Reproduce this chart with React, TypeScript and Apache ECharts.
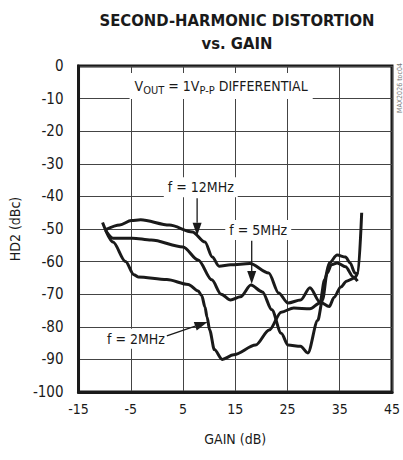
import React, { useEffect, useRef } from 'react';
import * as echarts from 'echarts';

const gainMin = -15;
const gainMax = 45;
const gainStep = 10;
const hd2Min = -100;
const hd2Max = 0;
const hd2Step = 10;

const f12Gain = [-9.8, -7.1, -4.9, -3.1, 2.4, 6.8, 9.2, 10.6, 11.9, 14.1, 17.8, 21.4, 23.3, 25.1, 27.5, 29.3, 31.2, 33.0, 33.9, 35.2, 36.3, 37.9, 38.5, 39.2];
const f12Hd2 = [-50.2, -48.8, -47.4, -47.2, -48.8, -50.9, -54, -58.6, -61.4, -61, -60.6, -63.5, -69.6, -72.7, -71.8, -68, -72.4, -73.8, -71, -67.8, -66, -65, -63.5, -45];

const f5Gain = [-9.8, -8.4, -4.7, -1.1, 5.0, 7.9, 10.5, 12.3, 14.1, 16.0, 18.0, 20.2, 22.0, 23.8, 25.1, 27.5, 28.9, 30.8, 31.7, 32.6, 33.4, 34.5, 36.1, 37.6, 38.4];
const f5Hd2 = [-50.5, -52.8, -52.8, -53.4, -55.5, -59.5, -65.6, -70, -71.8, -70.8, -67.2, -69.3, -74.8, -82, -85.6, -86, -88, -78, -71.8, -63.5, -61, -60.4, -61.6, -64.7, -66];

const f2Gain = [-10.4, -8.4, -6.0, -4.4, -3.6, 1.9, 6.0, 7.9, 8.6, 9.2, 9.6, 10.1, 11.0, 12.5, 14.7, 18.9, 21.5, 23.8, 26.2, 29.3, 31.2, 32.1, 33.0, 34.5, 36.1, 37.0, 37.9, 38.5];
const f2Hd2 = [-48, -54, -60, -64, -64.7, -65.5, -67, -69, -70.5, -73.9, -77, -81, -87, -90, -88.6, -85.6, -81, -75.5, -74.2, -74.5, -72.7, -65.6, -60.4, -58, -58.6, -60.4, -63.5, -64];

const seriesNames = ['f = 12MHz', 'f = 5MHz', 'f = 2MHz'];

const FONT = '"DejaVu Sans Condensed", "Liberation Sans Narrow", sans-serif';
const INK = '#1a1a1a';

export default function App() {
  const ref = useRef<HTMLDivElement>(null);
  useEffect(() => {
    const chart = echarts.init(ref.current!, null, { renderer: 'svg' });
    const mk = (name: string, gain: number[], hd2: number[]) => ({
      type: 'line',
      name,
      data: gain.map((g, i) => [g, hd2[i]]),
      showSymbol: false,
      symbol: 'none',
      smooth: 0.3,
      smoothMonotone: 'x',
      silent: true,
      z: 3,
      lineStyle: { color: INK, width: 3 },
    });
    chart.setOption({
      animation: false,
      backgroundColor: '#fff',
      title: {
        text: 'SECOND-HARMONIC DISTORTION\nvs. GAIN',
        left: 232,
        top: 4,
        textAlign: 'center',
        textStyle: { fontFamily: FONT, fontSize: 16.5, fontWeight: 'bold', color: INK, lineHeight: 23 },
      },
      grid: { left: 68, right: 7, top: 66, bottom: 68, show: true, borderColor: INK, borderWidth: 3, backgroundColor: 'transparent' },
      xAxis: {
        type: 'value', min: gainMin, max: gainMax, interval: gainStep,
        name: 'GAIN (dB)', nameLocation: 'middle', nameGap: 40,
        nameTextStyle: { fontFamily: FONT, fontSize: 14, color: INK },
        axisLine: { show: true, onZero: false, lineStyle: { color: INK, width: 3 } },
        axisTick: { show: false },
        axisLabel: { fontFamily: FONT, fontSize: 14, color: INK, margin: 10, showMinLabel: true, showMaxLabel: true },
        splitLine: { show: true, lineStyle: { color: '#444', width: 1 } },
      },
      yAxis: {
        type: 'value', min: hd2Min, max: hd2Max, interval: hd2Step,
        name: 'HD2 (dBc)', nameLocation: 'middle', nameGap: 41,
        nameTextStyle: { fontFamily: FONT, fontSize: 14, color: INK },
        axisLine: { show: true, onZero: false, lineStyle: { color: INK, width: 3 } },
        axisTick: { show: false },
        axisLabel: { fontFamily: FONT, fontSize: 15, color: INK, margin: 15 },
        splitLine: { show: true, lineStyle: { color: '#444', width: 1 } },
      },
      series: [
        mk(seriesNames[0], f12Gain, f12Hd2),
        mk(seriesNames[1], f5Gain, f5Hd2),
        mk(seriesNames[2], f2Gain, f2Hd2),
      ],
    });

    const px = (p: number[]) => chart.convertToPixel({ gridIndex: 0 }, p) as number[];
    const labelStyle = (text: string, p: number[]) => ({
      type: 'text', z: 10, silent: true,
      style: {
        text, x: p[0], y: p[1], align: 'center', verticalAlign: 'middle',
        fontFamily: FONT, fontSize: 14, fill: INK, backgroundColor: '#fff', padding: [3, 4],
      },
    });
    const arrow = (from: number[], to: number[]) => {
      const a = px(from);
      const b = px(to);
      const dx = b[0] - a[0];
      const dy = b[1] - a[1];
      const len = Math.sqrt(dx * dx + dy * dy);
      const ux = dx / len, uy = dy / len;
      const hl = 13, hw = 4.5;
      const bx = b[0] - ux * hl, by = b[1] - uy * hl;
      return [
        { type: 'line', z: 10, silent: true, shape: { x1: a[0], y1: a[1], x2: bx, y2: by }, style: { stroke: INK, lineWidth: 1.3 } },
        { type: 'polygon', z: 10, silent: true, shape: { points: [[b[0], b[1]], [bx - uy * hw, by + ux * hw], [bx + uy * hw, by - ux * hw]] }, style: { fill: INK } },
      ];
    };

    const vout = px([12.3, -6.1]);
    chart.setOption({
      graphic: [
        {
          type: 'text', z: 10, silent: true,
          style: {
            text: '{v|V}{s|OUT}{v| = 1V}{s|P-P}{v| DIFFERENTIAL}',
            x: vout[0], y: vout[1], align: 'center', verticalAlign: 'middle',
            backgroundColor: '#fff', padding: [3, 5],
            rich: {
              v: { fontFamily: FONT, fontSize: 14, fill: INK, color: INK, lineHeight: 20 },
              s: { fontFamily: FONT, fontSize: 11, fill: INK, color: INK, verticalAlign: 'bottom' },
            },
          },
        },
        labelStyle(seriesNames[0], px([8.4, -37.2])),
        labelStyle(seriesNames[1], px([19.4, -50.3])),
        labelStyle(seriesNames[2], px([-4.0, -83.7])),
        ...arrow([7.7, -40.6], [7.7, -52.1]),
        ...arrow([18.15, -53.6], [18.15, -66.9]),
        ...arrow([1.9, -82.8], [9.7, -78.5]),
        {
          type: 'text', z: 10, silent: true, x: 400, y: 88, rotation: Math.PI / 2,
          style: { text: 'MAX2026 toc04', align: 'center', verticalAlign: 'middle', fontFamily: FONT, fontSize: 7, fill: '#777' },
        },
      ],
    });
    return () => chart.dispose();
  }, []);
  return <div ref={ref} style={{ position: 'fixed', left: 0, top: 0, width: 403, height: 460 }} />;
}
